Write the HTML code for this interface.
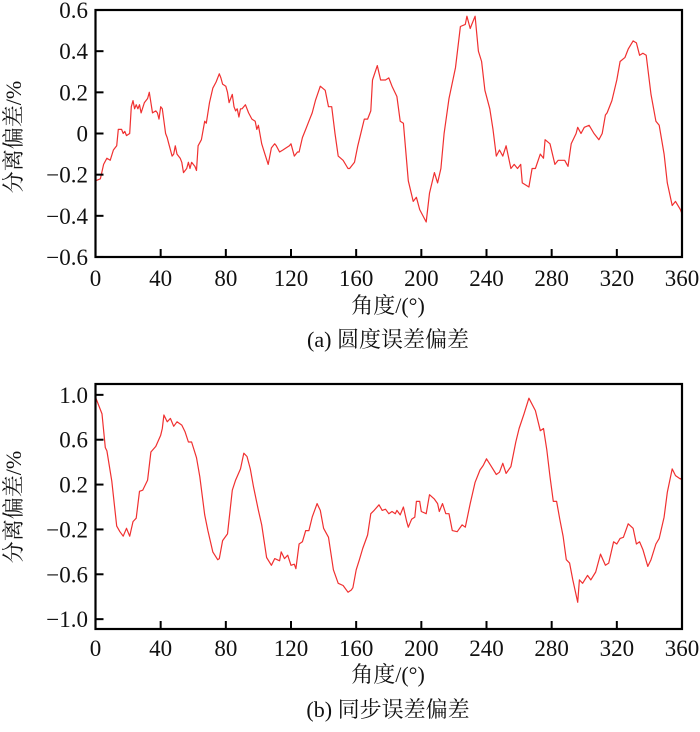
<!DOCTYPE html>
<html><head><meta charset="utf-8"><style>
html,body{margin:0;padding:0;background:#fff;}
svg{display:block;}
text{font-family:"Liberation Serif","Noto Serif CJK SC","Noto Sans CJK SC",serif;fill:#111;}
</style></head><body>
<svg id="s" width="700" height="732" viewBox="0 0 700 732" xmlns="http://www.w3.org/2000/svg">
<g id="gtop"></g><g id="gbot"></g>
<text x="388" y="313" font-size="22" text-anchor="middle">角度/(°)</text>
<text x="388" y="347" font-size="22" text-anchor="middle">(a) 圆度误差偏差</text>
<text x="388" y="682" font-size="22" text-anchor="middle">角度/(°)</text>
<text x="388" y="717" font-size="22" text-anchor="middle">(b) 同步误差偏差</text>
<text transform="translate(21,137) rotate(-90)" font-size="22" text-anchor="middle">分离偏差/%</text>
<text transform="translate(21,507) rotate(-90)" font-size="22" text-anchor="middle">分离偏差/%</text>
</svg>
<script>
(function(){
var NS="http://www.w3.org/2000/svg";
function el(p,t,a,txt){var e=document.createElementNS(NS,t);for(var k in a)e.setAttribute(k,a[k]);if(txt!==undefined)e.textContent=txt;p.appendChild(e);return e;}
var dTop=[[0,-0.23],[3,-0.22],[5,-0.15],[7,-0.12],[9,-0.13],[11,-0.08],[13,-0.06],[14,0.02],[16,0.02],[17,0],[18,0.01],[19,-0.01],[21,0.0],[22,0.13],[23,0.16],[24,0.12],[25,0.14],[26,0.12],[27,0.14],[28,0.10],[30,0.15],[32,0.17],[33,0.20],[35,0.10],[37,0.11],[38,0.10],[39,0.07],[40,0.13],[41,0.12],[43,0],[44,-0.02],[45,-0.05],[47,-0.11],[48,-0.10],[49,-0.06],[50,-0.10],[52,-0.12],[53,-0.14],[54,-0.19],[56,-0.17],[57,-0.14],[58,-0.17],[59,-0.14],[61,-0.16],[62,-0.18],[63,-0.06],[65,-0.03],[67,0.06],[68,0.05],[70,0.15],[72,0.22],[74,0.25],[76,0.29],[77,0.27],[78,0.24],[80,0.23],[81,0.20],[82,0.15],[83,0.17],[84,0.19],[85,0.13],[86,0.11],[87,0.12],[88,0.08],[89,0.12],[90,0.12],[92,0.14],[94,0.10],[96,0.07],[98,0.06],[99,0.02],[100,0.04],[102,-0.05],[104,-0.10],[106,-0.15],[108,-0.07],[110,-0.05],[111,-0.06],[113,-0.09],[115,-0.08],[117,-0.07],[119,-0.06],[120,-0.05],[122,-0.11],[124,-0.09],[125,-0.09],[127,-0.02],[129,0.02],[131,0.06],[133,0.10],[135,0.16],[138,0.23],[141,0.21],[143,0.13],[145,0.13],[147,0.0],[149,-0.11],[152,-0.13],[155,-0.17],[156,-0.17],[159,-0.14],[161,-0.06],[165,0.07],[167,0.07],[169,0.11],[170,0.26],[173,0.33],[175,0.26],[178,0.26],[180,0.27],[182,0.23],[185,0.18],[187,0.06],[189,0.05],[192,-0.23],[195,-0.33],[197,-0.31],[199,-0.37],[203,-0.43],[205,-0.29],[208,-0.19],[210,-0.24],[212,-0.17],[214,0],[217,0.17],[221,0.32],[224,0.52],[227,0.53],[228,0.57],[230,0.51],[231,0.53],[233,0.57],[235,0.40],[237,0.35],[239,0.21],[242,0.12],[244,0.02],[246,-0.11],[248,-0.08],[250,-0.11],[252,-0.06],[255,-0.17],[257,-0.15],[259,-0.17],[261,-0.15],[262,-0.24],[266,-0.26],[268,-0.17],[270,-0.17],[273,-0.10],[275,-0.12],[276,-0.03],[279,-0.05],[282,-0.15],[284,-0.13],[288,-0.13],[290,-0.16],[292,-0.05],[295,0],[296,0.03],[298,0],[300,0.03],[303,0.04],[306,0],[309,-0.03],[311,0],[313,0.09],[314,0.10],[317,0.16],[320,0.26],[322,0.35],[325,0.37],[327,0.41],[330,0.45],[332,0.44],[334,0.38],[336,0.39],[338,0.38],[341,0.19],[344,0.06],[346,0.04],[349,-0.10],[351,-0.24],[354,-0.35],[356,-0.33],[359,-0.37],[360,-0.39]];
var dBot=[[0,0.98],[4,0.83],[6,0.53],[7,0.50],[10,0.23],[13,-0.17],[15,-0.22],[17,-0.26],[19,-0.19],[21,-0.26],[23,-0.13],[25,-0.10],[27,0.14],[29,0.15],[32,0.24],[34,0.49],[37,0.54],[40,0.64],[41,0.70],[42,0.82],[44,0.76],[46,0.79],[48,0.72],[50,0.76],[53,0.73],[55,0.67],[57,0.58],[59,0.58],[62,0.44],[64,0.27],[67,-0.07],[69,-0.21],[72,-0.40],[75,-0.47],[76,-0.46],[78,-0.30],[81,-0.24],[84,0.15],[86,0.24],[89,0.34],[91,0.48],[93,0.45],[95,0.34],[97,0.18],[100,-0.03],[102,-0.16],[105,-0.45],[108,-0.52],[110,-0.46],[113,-0.48],[114,-0.40],[116,-0.46],[118,-0.43],[120,-0.52],[122,-0.51],[123,-0.55],[125,-0.33],[127,-0.31],[129,-0.21],[131,-0.21],[133,-0.09],[136,0.03],[138,-0.03],[140,-0.19],[143,-0.27],[146,-0.56],[149,-0.68],[152,-0.70],[155,-0.76],[157,-0.74],[158,-0.72],[160,-0.56],[162,-0.47],[164,-0.37],[167,-0.25],[169,-0.06],[171,-0.03],[174,0.02],[176,-0.03],[178,-0.02],[180,-0.06],[182,-0.04],[184,-0.06],[185,-0.03],[187,-0.07],[189,0],[191,-0.13],[192,-0.18],[194,-0.11],[196,-0.09],[197,0.05],[199,0.05],[200,-0.04],[203,-0.06],[205,0.11],[208,0.07],[210,0.03],[211,-0.04],[213,0.03],[215,-0.06],[217,-0.06],[219,-0.21],[222,-0.22],[225,-0.16],[227,-0.18],[230,0.03],[233,0.22],[236,0.33],[238,0.37],[240,0.43],[243,0.36],[246,0.29],[248,0.31],[250,0.39],[252,0.30],[255,0.36],[258,0.58],[260,0.70],[263,0.83],[266,0.97],[270,0.86],[273,0.68],[275,0.70],[277,0.51],[279,0.27],[281,0.05],[283,0.05],[285,-0.11],[287,-0.26],[289,-0.47],[291,-0.50],[293,-0.65],[296,-0.85],[297,-0.65],[299,-0.68],[302,-0.61],[304,-0.65],[307,-0.58],[310,-0.42],[313,-0.52],[315,-0.50],[318,-0.31],[320,-0.33],[322,-0.28],[324,-0.27],[327,-0.15],[330,-0.19],[332,-0.33],[334,-0.31],[336,-0.38],[339,-0.53],[341,-0.47],[344,-0.33],[346,-0.28],[349,-0.09],[351,0.13],[354,0.34],[356,0.28],[359,0.25],[360,0.26]];
var X0=95.5,X1=682;
function X(d){return X0+(X1-X0)*d/360;}
function panel(g,Y,ticks,labels,data,ft,fb,xlabY){
  var pts=data.map(function(p){return X(p[0]).toFixed(1)+","+Y(p[1]).toFixed(1);}).join(" ");
  el(g,"polyline",{points:pts,fill:"none",stroke:"#f03030","stroke-width":"1.2","stroke-linejoin":"round"});
  for(var i=0;i<ticks.length;i++){var y=Y(ticks[i]);
    el(g,"line",{x1:X0,x2:X0+8,y1:y,y2:y,stroke:"#000","stroke-width":2});
    el(g,"text",{x:88,y:y+8,"font-size":23,"text-anchor":"end"},labels[i]);}
  for(var d=0;d<=360;d+=40){var x=X(d);
    el(g,"line",{x1:x,x2:x,y1:fb,y2:fb-8,stroke:"#000","stroke-width":2});
    el(g,"text",{x:x,y:xlabY,"font-size":23,"text-anchor":"middle"},String(d));}
  el(g,"rect",{x:X0,y:ft,width:X1-X0,height:fb-ft,fill:"none",stroke:"#000","stroke-width":2.2});
}
panel(document.getElementById("gtop"),function(v){return 133.5-v*205.8;},[0.6,0.4,0.2,0,-0.2,-0.4,-0.6],["0.6","0.4","0.2","0","\u22120.2","\u22120.4","\u22120.6"],dTop,10,257,286);
panel(document.getElementById("gbot"),function(v){return 507-v*112.15;},[1.0,0.6,0.2,-0.2,-0.6,-1.0],["1.0","0.6","0.2","\u22120.2","\u22120.6","\u22121.0"],dBot,384,629,656);
})();
</script>
</body></html>
